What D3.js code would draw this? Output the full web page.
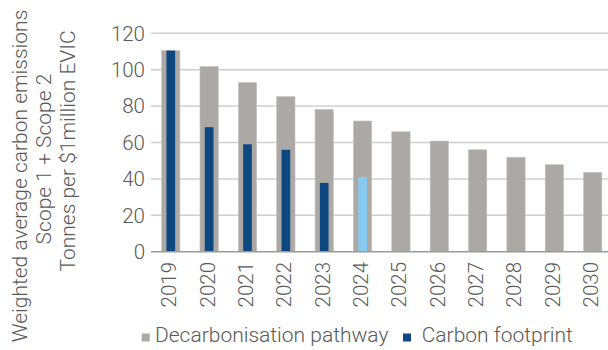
<!DOCTYPE html>
<html>
<head>
<meta charset="utf-8">
<script src="https://cdn.jsdelivr.net/npm/d3@7"></script>
<style>
  html, body { margin: 0; padding: 0; background: #fff; }
  svg text { font-family: Roboto, "Noto Sans", sans-serif; font-weight: 300; fill: #595959; }
</style>
</head>
<body>
<svg id="chart" width="608" height="350"></svg>
<script>
// Years on the x axis
const years = ["2019","2020","2021","2022","2023","2024","2025","2026","2027","2028","2029","2030"];
// Decarbonisation pathway (tCO2e per $1m EVIC)
const pathway = [110.5, 101.7, 92.9, 85.2, 78.2, 71.8, 65.9, 60.8, 56.0, 51.9, 47.8, 43.6];
// Reported carbon footprint (last year shown in a lighter shade)
const footprint = [110.5, 68.4, 59.0, 56.0, 37.8, 41.0];
const yTicks = [0, 20, 40, 60, 80, 100, 120];
const titleLines = ["Weighted average carbon emissions", "Scope 1 + Scope 2", "Tonnes per $1million EVIC"];
const legendItems = ["Decarbonisation pathway", "Carbon footprint"];

const colors = { pathway: "#aba8a6", footprint: "#0d4880", latest: "#86caef", grid: "#cfcfcf", axis: "#9a9a9a" };

const svg = d3.select("#chart");

const x = d3.scaleBand().domain(years).range([151.6, 611.9]).padding(0);
const y = d3.scaleLinear().domain([0, 120]).range([251.7, 33.3]);

const grayW = 18.3, blueW = 8.7;

// Gridlines with tick stubs
svg.append("g")
  .selectAll("line")
  .data(yTicks.filter(d => d !== 0))
  .join("line")
  .attr("x1", 151).attr("x2", 608)
  .attr("y1", d => y(d)).attr("y2", d => y(d))
  .attr("stroke", colors.grid).attr("stroke-width", 1.5);

// Y tick labels
svg.append("g")
  .selectAll("text")
  .data(yTicks)
  .join("text")
  .attr("x", 145)
  .attr("y", d => y(d))
  .attr("dy", "0.36em")
  .attr("text-anchor", "end")
  .style("font-size", "20.5px")
  .text(d => d);

// Pathway bars
svg.append("g")
  .selectAll("rect")
  .data(years.map((yr, i) => ({ yr, v: pathway[i] })))
  .join("rect")
  .attr("x", d => x(d.yr) + x.bandwidth() / 2 - grayW / 2)
  .attr("width", grayW)
  .attr("y", d => y(d.v))
  .attr("height", d => y(0) - y(d.v))
  .attr("fill", colors.pathway)
  .attr("stroke", "#c4c2c1")
  .attr("stroke-width", 0.6);

// Footprint bars
svg.append("g")
  .selectAll("rect")
  .data(footprint.map((v, i) => ({ yr: years[i], v, i })))
  .join("rect")
  .attr("x", d => x(d.yr) + x.bandwidth() / 2 - blueW / 2)
  .attr("width", blueW)
  .attr("y", d => y(d.v))
  .attr("height", d => y(0) - y(d.v))
  .attr("fill", d => d.i === footprint.length - 1 ? colors.latest : colors.footprint);

// Baseline
svg.append("line")
  .attr("x1", 151).attr("x2", 608)
  .attr("y1", y(0)).attr("y2", y(0))
  .attr("stroke", colors.axis).attr("stroke-width", 1.5);

// Year labels, rotated
svg.append("g")
  .selectAll("text")
  .data(years)
  .join("text")
  .attr("transform", d => `translate(${x(d) + x.bandwidth() / 2 - 2},262) rotate(-90)`)
  .attr("dy", "0.36em")
  .attr("text-anchor", "end")
  .style("font-size", "20.5px")
  .text(d => d);

// Y axis title, three lines
const titleX = [19, 43, 67];
const titleY = [176, 159, 151];
svg.append("g")
  .selectAll("text")
  .data(titleLines)
  .join("text")
  .attr("transform", (d, i) => `translate(${titleX[i]},${titleY[i]}) rotate(-90)`)
  .attr("dy", "0.36em")
  .attr("text-anchor", "middle")
  .style("font-size", "21px")
  .text(d => d);

// Legend
const legend = svg.append("g");
const legendX = [141.7, 403];
const textX = [155, 421.7];
const legendColors = [colors.pathway, colors.footprint];
legendItems.forEach((label, i) => {
  legend.append("rect")
    .attr("x", legendX[i]).attr("y", 333.5)
    .attr("width", 8).attr("height", 8)
    .attr("fill", legendColors[i]);
  legend.append("text")
    .attr("x", textX[i]).attr("y", 341.7)
    .style("font-size", "21px")
    .text(label);
});
</script>
</body>
</html>
